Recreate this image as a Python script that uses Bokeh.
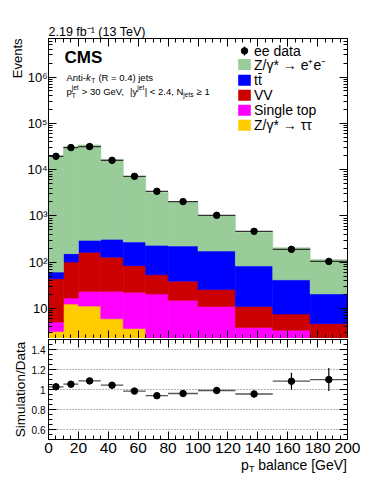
import numpy as np
from bokeh.plotting import figure
from bokeh.models import (Range1d, LogAxis, LinearAxis, FixedTicker, CustomJSTickFormatter,
                          Label, BoxAnnotation, Title)
from bokeh.core.properties import value
from bokeh.layouts import column
from bokeh.embed import file_html
from bokeh.resources import INLINE

# ---------------- data ----------------
bin_edges = [0, 10, 20, 35, 50, 65, 80, 100, 125, 150, 175, 200]
data_ee = [19400, 29900, 31400, 15900, 7170, 3400, 2040, 1030, 465, 190, 104]
z_tautau = [3.2, 12.5, 11.3, 6.0, 3.7, 1.5, 1.0, 0.8, 0.5, 0.3, 0.2]
single_top = [1.9, 4.4, 12.2, 17.5, 18.7, 19.1, 14.0, 10.3, 3.4, 3.1, 1.6]
diboson_vv = [39, 84, 140, 105, 62, 33, 24, 14.5, 7.2, 4.2, 2.9]
ttbar = [17, 52, 133, 184, 189, 178, 185, 149, 72, 34, 16]
dy_ee = [19840, 31350, 33800, 16290, 6790, 2960, 1740, 845, 361, 164, 93]
ratio = [1.027, 1.053, 1.086, 1.043, 0.984, 0.938, 0.960, 0.990, 0.955, 1.083, 1.099]
ratio_err = [0.004, 0.005, 0.005, 0.006, 0.008, 0.010, 0.012, 0.020, 0.035, 0.085, 0.115]

legend_labels = ["ee data", "Z/\u03b3* \u2192 e\u207ae\u207b", "tt", "VV", "Single top",
                 "Z/\u03b3* \u2192 \u03c4\u03c4"]
main_y_ticks = [10, 100, 1000, 10000, 100000, 1000000]
main_y_labels = ["10", "10\u00b2", "10\u00b3", "10\u2074", "10\u2075", "10\u2076"]
x_ticks = [0, 20, 40, 60, 80, 100, 120, 140, 160, 180, 200]
x_labels = ["0", "20", "40", "60", "80", "100", "120", "140", "160", "180", "200"]
ratio_y_ticks = [0.6, 0.8, 1.0, 1.2, 1.4]
ratio_y_labels = ["0.6", "0.8", "1", "1.2", "1.4"]

# ---------------- styles ----------------
FONT = "Liberation Sans"
C_DY = "#99CC99"
C_TT = "#0000FF"
C_VV = "#CC0000"
C_ST = "#FF00FF"
C_ZTT = "#FFCC00"
layers = [(z_tautau, C_ZTT), (single_top, C_ST), (diboson_vv, C_VV), (ttbar, C_TT), (dy_ee, C_DY)]

YMIN, YMAX = 2.25, 6.8e6
FW, FH, RH = 299, 300, 100
BL, BR = 48, 27

AW = {' ': 278, '!': 278, '(': 333, ')': 333, '*': 389, '+': 584, ',': 278, '-': 333, '.': 278,
      '/': 278, '<': 584, '=': 584, '>': 584, 'A': 667, 'C': 722, 'D': 722, 'E': 667, 'G': 778,
      'M': 833, 'N': 722, 'R': 722, 'S': 667, 'T': 611, 'V': 667, 'Z': 611, '[': 278, ']': 278,
      'a': 556, 'b': 556, 'c': 500, 'd': 556, 'e': 556, 'f': 278, 'i': 222, 'j': 222, 'k': 500,
      'l': 222, 'm': 833, 'n': 556, 'o': 556, 'p': 556, 's': 500, 't': 278, 'u': 556, 'v': 500,
      'y': 500, '|': 260, '\u2265': 549}


def tw(s, size):
    return sum(AW.get(c, 556) for c in s) / 1000.0 * size


def lab(fig, x, y, text, size, **kw):
    opts = dict(x=x, y=y, x_units="screen", y_units="screen", text=text, text_font=FONT,
                text_font_size=f"{size}px", text_baseline="middle", text_color="black")
    opts.update(kw)
    fig.add_layout(Label(**opts))


def run(fig, x, y, pieces):
    """pieces: (text, size, dy, style, advance) ; leading spaces become offsets"""
    for text, size, dy, style, adv in pieces:
        stripped = text.lstrip(" ")
        x += tw(text[:len(text) - len(stripped)], size)
        if stripped:
            lab(fig, x, y + dy, stripped, size, text_font_style=style)
        x += tw(stripped, size) if adv is None else adv


def fmt(ticks, labels):
    return CustomJSTickFormatter(args=dict(vals=ticks, labs=labels), code="""
        for (let i = 0; i < vals.length; i++) {
            if (Math.abs(tick - vals[i]) <= 1e-9 * Math.max(1, Math.abs(vals[i]))) return labs[i];
        }
        return '';
    """)


def style_axis(ax, show, size=13):
    ax.axis_line_color = "black"
    ax.major_tick_in = 8
    ax.major_tick_out = 0
    ax.minor_tick_in = 4
    ax.minor_tick_out = 0
    ax.major_tick_line_color = "black"
    ax.minor_tick_line_color = "black"
    ax.major_label_text_font = FONT
    ax.major_label_text_color = "black"
    ax.axis_label_text_color = "black"
    if show:
        ax.major_label_text_font_size = f"{size}px"
        ax.major_label_standoff = 3
    else:
        ax.major_label_text_font_size = "0px"
        ax.major_label_standoff = 0
        ax.formatter = CustomJSTickFormatter(code="return '';")


edges = np.array(bin_edges, dtype=float)
left, right = edges[:-1], edges[1:]
centers = 0.5 * (left + right)

x_minor = [v for v in range(0, 201, 5) if v % 20 != 0]
log_minor = [m * 10 ** d for d in range(0, 7) for m in range(2, 10) if YMIN <= m * 10 ** d <= YMAX]

# ---------------- main panel ----------------
p = figure(frame_width=FW, frame_height=FH, y_axis_type="log",
           x_range=Range1d(0, 200), y_range=Range1d(YMIN, YMAX),
           x_axis_location=None, y_axis_location=None,
           output_backend="svg", toolbar_location=None,
           min_border_left=BL, min_border_right=BR, min_border_top=38, min_border_bottom=0)
p.title.text = "2.19 fb\u207b\u00b9 (13 TeV)"
p.title.align = "left"
p.title.text_font = FONT
p.title.text_font_size = "12.5px"
p.title.text_font_style = "normal"
p.title.text_color = "black"
p.title.standoff = 0
p.title.offset = 0
p.xgrid.visible = False
p.ygrid.visible = False
p.outline_line_color = "black"
p.outline_line_width = 1
p.background_fill_color = "white"
p.border_fill_color = "white"

for side, show in (("left", True), ("right", False)):
    ax = LogAxis(ticker=FixedTicker(ticks=main_y_ticks, minor_ticks=log_minor))
    style_axis(ax, show, 13)
    if show:
        ax.formatter = fmt(main_y_ticks, main_y_labels)
        ax.major_label_standoff = 1
    p.add_layout(ax, side)
for side in ("above", "below"):
    ax = LinearAxis(ticker=FixedTicker(ticks=x_ticks, minor_ticks=x_minor))
    style_axis(ax, False)
    p.add_layout(ax, side)
p.add_layout(Title(text="Events", align="right", text_font=FONT, text_font_size="13px",
                   text_font_style="normal", text_color="black", standoff=0, offset=0), "left")

bottom = np.full(len(left), 1e-3)
for vals, col in layers:
    top = bottom + np.array(vals, dtype=float)
    p.quad(left=left, right=right, bottom=bottom, top=top, fill_color=col,
           line_color=col, line_width=0.6)
    bottom = top

p.segment(x0=left, x1=right, y0=data_ee, y1=data_ee, line_color="#333333", line_width=1.2)
p.scatter(x=centers, y=data_ee, size=6.5, color="black")

# texts inside the frame
lab(p, 16, 280.8, "CMS", 17, text_font_style="bold")

s, ss = 9.5, 6.5
run(p, 18.0, 260.8, [
    ("Anti-", s, 0, "normal", None),
    ("k", s, 0, "italic", tw("k", s) + 0.5),
    ("T", ss, -3, "normal", tw("T", ss) + 0.5),
    (" (R = 0.4) jets", s, 0, "normal", None),
])
run(p, 18.0, 246.6, [
    ("p", s, 0, "normal", None),
    ("jet", ss, 4.5, "normal", 0),
    ("T", ss, -3.5, "normal", tw("jet", ss) + 0.5),
    (" > 30 GeV,", s, 0, "normal", None),
    ("  |y", s, 0, "normal", None),
    ("jet", ss, 4.5, "normal", tw("jet", ss) + 0.5),
    ("| < 2.4, N", s, 0, "normal", None),
    ("jets", ss, -3, "normal", tw("jets", ss) + 0.5),
    (" \u2265 1", s, 0, "normal", None),
])

# legend (manual)
rows = [287.6, 274.0, 258.3, 243.3, 228.3, 213.3]
box_l, box_r = 189.7, 202.3
text_x = 205.5
sw_cols = [C_DY, C_TT, C_VV, C_ST, C_ZTT]
for yy, col in zip(rows[1:], sw_cols):
    p.add_layout(BoxAnnotation(left=box_l, right=box_r, bottom=yy - 5.5, top=yy + 5.5,
                               left_units="screen", right_units="screen",
                               bottom_units="screen", top_units="screen",
                               fill_color=col, fill_alpha=1.0, line_color=None,
                               level="annotation"))
for yy, txt in zip(rows, legend_labels):
    lab(p, text_x, yy, txt, 14)
# bar over the second t of "tt"
tb_l = text_x + tw("t", 14) + 0.3
p.add_layout(BoxAnnotation(left=tb_l, right=tb_l + tw("t", 14) - 0.3,
                           bottom=rows[2] + 6.2, top=rows[2] + 7.3,
                           left_units="screen", right_units="screen",
                           bottom_units="screen", top_units="screen",
                           fill_color="black", fill_alpha=1.0, line_color=None,
                           level="annotation"))


def fr2data(xf, yf):
    xd = xf / FW * 200.0
    yd = 10 ** (np.log10(YMIN) + yf / FH * (np.log10(YMAX) - np.log10(YMIN)))
    return xd, yd


mx, my = fr2data(0.5 * (box_l + box_r), rows[0])
_, my_lo = fr2data(0, rows[0] - 4.5)
_, my_hi = fr2data(0, rows[0] + 4.5)
p.segment(x0=[mx], x1=[mx], y0=[my_lo], y1=[my_hi], line_color="black", line_width=1.2)
p.scatter(x=[mx], y=[my], size=6.5, color="black")

# ---------------- ratio panel ----------------
r = figure(frame_width=FW, frame_height=RH,
           x_range=p.x_range, y_range=Range1d(0.5, 1.5),
           x_axis_location=None, y_axis_location=None,
           output_backend="svg", toolbar_location=None,
           min_border_left=BL, min_border_right=BR, min_border_top=1, min_border_bottom=18)
r.xgrid.visible = False
r.outline_line_color = "black"
r.background_fill_color = "white"
r.border_fill_color = "white"

r_minor = [round(0.5 + 0.05 * i, 2) for i in range(21)]
r_minor = [v for v in r_minor if all(abs(v - t) > 1e-6 for t in ratio_y_ticks)]
for side, show in (("left", True), ("right", False)):
    ax = LinearAxis(ticker=FixedTicker(ticks=ratio_y_ticks, minor_ticks=r_minor))
    style_axis(ax, show, 10)
    if show:
        ax.formatter = fmt(ratio_y_ticks, ratio_y_labels)
        ax.axis_label = "Simulation/Data"
        ax.axis_label_text_font = FONT
        ax.axis_label_text_font_size = "13.5px"
        ax.axis_label_text_font_style = "normal"
        ax.axis_label_standoff = 1
    r.add_layout(ax, side)
for side, show in (("above", False), ("below", True)):
    ax = LinearAxis(ticker=FixedTicker(ticks=x_ticks, minor_ticks=x_minor))
    style_axis(ax, show, 15.5)
    if show:
        ax.formatter = fmt(x_ticks, x_labels)
        ax.major_label_standoff = 3
    r.add_layout(ax, side)

r.ygrid.ticker = FixedTicker(ticks=ratio_y_ticks)
r.ygrid.grid_line_color = "#666666"
r.ygrid.grid_line_dash = "1 2"
r.ygrid.grid_line_width = 1

rat = np.array(ratio)
err = np.array(ratio_err)
r.segment(x0=left, x1=right, y0=rat, y1=rat, line_color="#555555", line_width=1.3)
r.segment(x0=centers, x1=centers, y0=rat - err, y1=rat + err, line_color="black", line_width=1.2)
r.scatter(x=centers, y=rat, size=6.5, color="black")

# ---------------- x-axis title strip (frame-pixel coordinates) ----------------
SH = 18
st = figure(frame_width=FW, frame_height=SH, x_range=Range1d(0, FW), y_range=Range1d(0, SH),
            x_axis_location=None, y_axis_location=None,
            output_backend="svg", toolbar_location=None,
            min_border_left=BL, min_border_right=BR, min_border_top=0, min_border_bottom=0)
st.xgrid.visible = False
st.ygrid.visible = False
st.outline_line_color = None
st.background_fill_color = "white"
st.border_fill_color = "white"
fs, fsub = 14, 9
xr = FW - 0.5
total = tw("p", fs) + tw("T", fsub) + tw(" balance [GeV]", fs)
xs = xr - total
xb = xs + tw("p", fs) + tw("T", fsub) + tw(" ", fs)
ymid = SH - 7
st.text(x=[xs], y=[ymid], text=["p"], text_font=value(FONT), text_font_size="14px",
        text_baseline="middle", text_color="black")
st.text(x=[xs + tw("p", fs)], y=[ymid - 4], text=["T"], text_font=value(FONT),
        text_font_size="9px", text_baseline="middle", text_color="black")
st.text(x=[xb], y=[ymid], text=["balance [GeV]"],
        text_font=value(FONT), text_font_size="14px", text_baseline="middle", text_color="black")

layout = column(p, r, st, spacing=0)
open("out.html", "w").write(file_html(layout, INLINE))
